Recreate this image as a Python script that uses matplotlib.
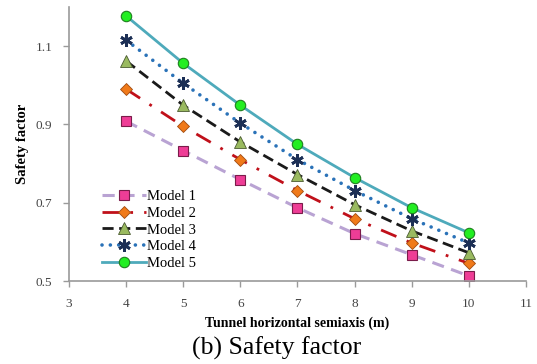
import matplotlib
matplotlib.use("Agg")
import matplotlib.pyplot as plt

x = [4, 5, 6, 7, 8, 9, 10]
model1 = [0.908, 0.833, 0.759, 0.687, 0.621, 0.567, 0.513]
model2 = [0.990, 0.895, 0.810, 0.731, 0.659, 0.597, 0.545]
model3 = [1.062, 0.949, 0.855, 0.772, 0.695, 0.628, 0.572]
model4 = [1.115, 1.005, 0.903, 0.810, 0.731, 0.659, 0.597]
model5 = [1.177, 1.056, 0.949, 0.849, 0.764, 0.687, 0.623]
labels = ["Model 1", "Model 2", "Model 3", "Model 4", "Model 5"]
xticks = [3, 4, 5, 6, 7, 8, 9, 10, 11]
yticks = [0.5, 0.7, 0.9, 1.1]

serif = ["Liberation Serif", "DejaVu Serif"]
plt.rcParams["font.family"] = serif

fig = plt.figure(figsize=(5.37, 3.64), dpi=100)
ax = fig.add_axes([0.1285, 0.228, 0.851, 0.753])

ax.plot(x, model1, color="#b9a3d3", ls=(0, (4, 2.5)), lw=2.2, marker="s", ms=7,
        mfc="#ee3d96", mec="#7a1c4a", mew=0.8, label=labels[0])
ax.plot(x, model2, color="#c0101a", ls=(0, (6, 4, 1, 4)), lw=2, marker="D", ms=6,
        mfc="#f07a1a", mec="#a04a10", mew=0.6, label=labels[1])
ax.plot(x, model3, color="#1a1a1a", ls=(0, (4, 2)), lw=2, marker="^", ms=8,
        mfc="#9aba60", mec="#4a5a30", mew=0.6, label=labels[2])
ax.plot(x, model4, color="#2a72b8", ls=(0, (0.01, 2.3)), lw=2.6, dash_capstyle="round",
        marker=(6, 2, 0), ms=9, mec="#1c2f55", mew=2, label=labels[3])
ax.plot(x, model5, color="#4eaabb", ls="-", lw=2, marker="o", ms=7.5,
        mfc="#22ee22", mec="#1f7f1f", mew=0.8, label=labels[4])

ax.set_xlim(3, 11)
ax.set_ylim(0.5, 1.2)
ax.set_xticks(xticks)
ax.set_yticks(yticks)
ax.set_yticklabels([f"{v:.1f}" for v in yticks])
for s in ["top", "right"]:
    ax.spines[s].set_visible(False)
for s in ["left", "bottom"]:
    ax.spines[s].set_color("#9a9a9a")
    ax.spines[s].set_linewidth(1.2)
ax.tick_params(colors="#9a9a9a", labelcolor="#444444", labelsize=9.5, length=4, width=1, pad=8)

ax.set_xlabel("Tunnel horizontal semiaxis (m)", fontsize=10, fontweight="bold", labelpad=5)
ax.set_ylabel("Safety factor", fontsize=10.5, fontweight="bold", labelpad=5)

leg = ax.legend(loc="lower left", bbox_to_anchor=(0.06, 0.02), frameon=False, fontsize=10.5,
                handlelength=3, handletextpad=0.1, labelspacing=0.23, borderaxespad=0)

fig.text(0.515, 0.044, "(b) Safety factor", fontsize=18.5, ha="center", va="center")

fig.savefig("out.png", dpi=100)
